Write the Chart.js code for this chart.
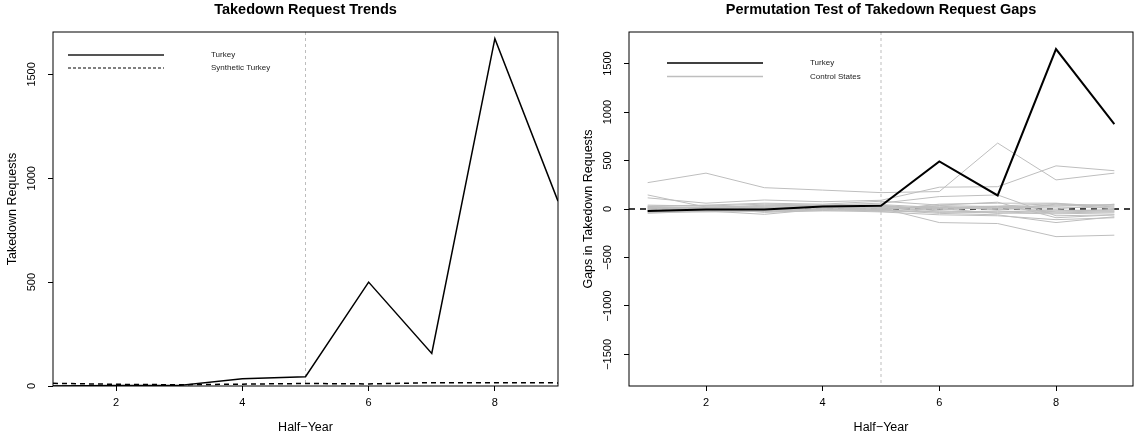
<!DOCTYPE html>
<html>
<head>
<meta charset="utf-8">
<title>Takedown Requests</title>
<script src="https://cdn.jsdelivr.net/npm/chart.js@4.4.1/dist/chart.umd.min.js"></script>
<style>
  body { margin: 0; background: #fff; }
  .row { display: flex; width: 1138px; height: 438px; }
  .panel { width: 569px; height: 438px; }
</style>
</head>
<body>
<div class="row">
  <div class="panel"><canvas id="TrendChart" width="569" height="438"></canvas></div>
  <div class="panel"><canvas id="GapChart" width="569" height="438"></canvas></div>
</div>
<script>
const halfYears = [1, 2, 3, 4, 5, 6, 7, 8, 9];
const turkeyRequests = [0, 2, 3, 35, 45, 500, 157, 1672, 890];
const syntheticTurkey = [13, 8, 6, 9, 12, 10, 16, 16, 15];
const turkeyGap = [-20, -5, -5, 25, 33, 490, 140, 1650, 875];
const controlGaps = [
    [272, 370, 220, 195, 169, 180, 680, 300, 370],
    [115, 60, 93, 75, 90, 225, 230, 445, 395],
    [145, 20, 30, 40, 60, 128, 145, -70, -60],
    [-30, -10, 10, 20, 10, -140, -150, -285, -270],
    [-45, -20, -55, 0, -10, -45, -60, -140, -80],
    [30, 40, 60, 50, 80, 40, 70, -90, -60],
    [-10, 0, 20, 10, 0, 20, 10, 40, 30],
    [10, 20, 10, 30, 20, -20, -30, -10, -20],
    [-20, -15, -20, -10, -5, 30, -10, 50, 40],
    [40, 30, 50, 40, 30, 0, 10, 20, 10],
    [0, 10, -10, 0, -20, -30, -40, -50, -40],
    [20, 5, 0, 15, 25, 10, 0, 0, 50],
    [-35, -30, -25, -20, -15, 50, 60, 60, 20],
    [5, -5, 30, 25, 40, -10, 20, -30, -20],
    [-5, 15, -35, -15, -30, -60, -70, -110, -90],
    [25, 35, 15, 20, 5, 35, 25, 30, 45],
    [-15, -25, 5, -5, 15, -35, -20, -40, -30],
    [15, 10, 40, 35, 45, 15, 30, 55, 5],
    [-25, 0, -15, 5, -25, 5, -45, -20, -5]
];
const xTicks = [2, 4, 6, 8];
const trendTicks = [0, 500, 1000, 1500];
const gapTicks = [-1500, -1000, -500, 0, 500, 1000, 1500];
const treatmentPeriod = 5;

const fontFamily = '"Liberation Sans", Arial, Helvetica, sans-serif';
const ink = '#000';

function points(values) {
    return values.map((v, i) => ({ x: halfYears[i], y: v }));
}

// draws the R-style frame: box, title, rotated y labels, reference lines, legend
const rFrame = {
    id: 'rFrame',
    beforeDatasetsDraw(chart, args, opts) {
        const { ctx, chartArea: a, scales } = chart;
        ctx.save();
        const vx = scales.x.getPixelForValue(opts.vline);
        ctx.strokeStyle = '#bdbdbd';
        ctx.lineWidth = 1;
        ctx.setLineDash([3, 3]);
        ctx.beginPath();
        ctx.moveTo(vx, a.top);
        ctx.lineTo(vx, a.bottom);
        ctx.stroke();
        if (opts.hline !== undefined) {
            const hy = scales.y.getPixelForValue(opts.hline);
            ctx.strokeStyle = ink;
            ctx.lineWidth = 1.5;
            ctx.setLineDash([6, 5]);
            ctx.beginPath();
            ctx.moveTo(a.left, hy);
            ctx.lineTo(a.right, hy);
            ctx.stroke();
        }
        ctx.restore();
    },
    afterDraw(chart, args, opts) {
        const { ctx, chartArea: a, scales } = chart;
        ctx.save();
        ctx.strokeStyle = ink;
        ctx.lineWidth = 1;
        ctx.strokeRect(a.left, a.top, a.right - a.left, a.bottom - a.top);

        ctx.fillStyle = ink;
        ctx.font = 'bold 14.5px ' + fontFamily;
        ctx.textAlign = 'center';
        ctx.textBaseline = 'middle';
        ctx.fillText(opts.title, (a.left + a.right) / 2, 10);

        ctx.font = '11px ' + fontFamily;
        scales.y.ticks.forEach(t => {
            const y = scales.y.getPixelForValue(t.value);
            ctx.save();
            ctx.translate(a.left - 21, y);
            ctx.rotate(-Math.PI / 2);
            ctx.fillText(String(t.value).replace('-', '\u2212'), 0, 0);
            ctx.restore();
        });

        const lg = opts.legend;
        ctx.font = '8px ' + fontFamily;
        ctx.textAlign = 'left';
        lg.items.forEach((item, i) => {
            const y = lg.y + i * lg.gap;
            ctx.strokeStyle = item.color;
            ctx.lineWidth = item.width;
            ctx.setLineDash(item.dash || []);
            ctx.beginPath();
            ctx.moveTo(lg.x, y);
            ctx.lineTo(lg.x + 96, y);
            ctx.stroke();
            ctx.fillStyle = '#222';
            ctx.fillText(item.label, lg.x + 143, y);
        });
        ctx.restore();
    }
};

function tickFont() {
    return { family: fontFamily, size: 11 };
}

function titleFont() {
    return { family: fontFamily, size: 12.5 };
}

function makeScales(yMin, yMax, yTicks, yTitle, yTitlePad, xMin, xMax) {
    return {
        x: {
            type: 'linear',
            min: xMin,
            max: xMax,
            afterBuildTicks: s => { s.ticks = xTicks.map(v => ({ value: v })); },
            afterFit: s => { s.height = 52; },
            grid: { drawOnChartArea: false, drawTicks: true, tickLength: 5, color: ink },
            border: { display: false },
            ticks: { font: tickFont(), color: ink, padding: 5, maxRotation: 0, autoSkip: false },
            title: { display: true, text: 'Half\u2212Year', font: titleFont(), color: ink, padding: { top: 0, bottom: 2.5 } }
        },
        y: {
            type: 'linear',
            min: yMin,
            max: yMax,
            afterBuildTicks: s => { s.ticks = yTicks.map(v => ({ value: v })); },
            afterFit: s => { s.width = s.chart.options.plugins.rFrame.axisWidth; },
            grid: { drawOnChartArea: false, drawTicks: true, tickLength: 5, color: ink },
            border: { display: false },
            ticks: { display: false },
            title: { display: true, text: yTitle, font: titleFont(), color: ink, padding: { top: yTitlePad, bottom: 0 } }
        }
    };
}

Chart.defaults.font.family = fontFamily;

new Chart(document.getElementById('TrendChart').getContext('2d'), {
    type: 'line',
    data: {
        datasets: [{
            label: 'Turkey',
            data: points(turkeyRequests),
            borderColor: ink,
            borderWidth: 1.5,
            pointRadius: 0
        }, {
            label: 'Synthetic Turkey',
            data: points(syntheticTurkey),
            borderColor: ink,
            borderWidth: 1.5,
            borderDash: [5, 4],
            pointRadius: 0
        }]
    },
    options: {
        responsive: false,
        animation: false,
        layout: { padding: { top: 32, right: 11, left: 0, bottom: 0 } },
        scales: makeScales(0, 1704, trendTicks, 'Takedown Requests', 4.9, 1, 9),
        plugins: {
            legend: { display: false },
            tooltip: { enabled: false },
            rFrame: {
                title: 'Takedown Request Trends',
                axisWidth: 53,
                vline: treatmentPeriod,
                legend: {
                    x: 68, y: 55, gap: 13,
                    items: [
                        { label: 'Turkey', color: '#555', width: 2 },
                        { label: 'Synthetic Turkey', color: ink, width: 1, dash: [3, 2] }
                    ]
                }
            }
        }
    },
    plugins: [rFrame]
});

const gapSets = [{
    label: 'Turkey',
    data: points(turkeyGap),
    borderColor: ink,
    borderWidth: 2,
    pointRadius: 0
}];
controlGaps.forEach((vals, i) => {
    gapSets.push({
        label: 'Control ' + (i + 1),
        data: points(vals),
        borderColor: '#bebebe',
        borderWidth: 1,
        pointRadius: 0
    });
});

new Chart(document.getElementById('GapChart').getContext('2d'), {
    type: 'line',
    data: { datasets: gapSets },
    options: {
        responsive: false,
        animation: false,
        layout: { padding: { top: 32, right: 5, left: 0, bottom: 0 } },
        scales: makeScales(-1826, 1826, gapTicks, 'Gaps in Takedown Requests', 12.1, 0.68, 9.32),
        plugins: {
            legend: { display: false },
            tooltip: { enabled: false },
            rFrame: {
                title: 'Permutation Test of Takedown Request Gaps',
                axisWidth: 60,
                vline: treatmentPeriod,
                hline: 0,
                legend: {
                    x: 98, y: 63, gap: 13.5,
                    items: [
                        { label: 'Turkey', color: ink, width: 1.5 },
                        { label: 'Control States', color: '#bebebe', width: 1.5 }
                    ]
                }
            }
        }
    },
    plugins: [rFrame]
});
</script>
</body>
</html>
